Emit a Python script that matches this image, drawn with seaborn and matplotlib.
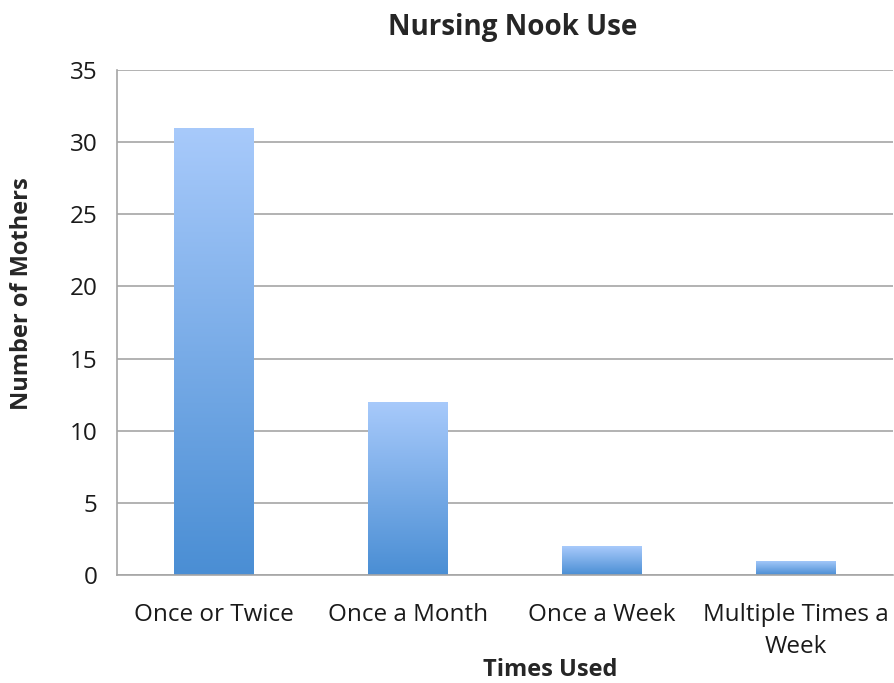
import numpy as np
import pandas as pd
import matplotlib
matplotlib.use("Agg")
import matplotlib.pyplot as plt
from matplotlib.colors import LinearSegmentedColormap
import seaborn as sns

# data
categories = ["Once or Twice", "Once a Month", "Once a Week", "Multiple Times a\nWeek"]
mothers = [31, 12, 2, 1]

data = pd.DataFrame({"Times Used": categories, "Number of Mothers": mothers})

sns.set_style("white")
plt.rcParams['font.family'] = ['Open Sans', 'DejaVu Sans']

fig = plt.figure(figsize=(8.95, 6.83), dpi=100)
ax = fig.add_axes([117/895, 1 - 575/683, (893-117)/895, (575-70)/683])

sns.barplot(x="Times Used", y="Number of Mothers", data=data, color="#7aaee8",
            width=0.41, ax=ax, zorder=3)

# vertical gradient in every bar, light at top and dark at bottom
cmap = LinearSegmentedColormap.from_list("bars", ["#4a8ed4", "#a8cafb"])
grad = np.linspace(0, 1, 256).reshape(-1, 1)
for bar in ax.patches:
    x0, y0 = bar.get_x(), bar.get_y()
    w, h = bar.get_width(), bar.get_height()
    im = ax.imshow(grad, cmap=cmap, aspect="auto", origin="lower",
                   extent=[x0, x0 + w, y0, y0 + h], zorder=3)
    im.set_clip_path(bar)
    bar.set_facecolor("none")
    bar.set_edgecolor("none")

ax.set_xlim(-0.5, 3.5)
ax.set_ylim(0, 35)
ax.set_yticks(range(0, 36, 5))
ax.grid(axis="y", color="#a6a6a6", linewidth=1.2, zorder=0)
ax.set_axisbelow(True)

for side in ["top", "right"]:
    ax.spines[side].set_visible(False)
for side in ["left", "bottom"]:
    ax.spines[side].set_color("#a6a6a6")
    ax.spines[side].set_linewidth(1.2)
    ax.spines[side].set_zorder(4)

ax.set_xticks(np.arange(-0.5, 4.0, 1.0), minor=True)
ax.tick_params(axis="x", which="major", length=0, labelsize=17.5, pad=20, colors="#1a1a1a")
ax.tick_params(axis="x", which="minor", length=7, width=1.2, color="#a6a6a6")
ax.tick_params(axis="y", length=8, width=1.2, color="#a6a6a6", labelsize=17.5, pad=6,
               labelcolor="#1a1a1a")
for lab in ax.get_xticklabels():
    lab.set_linespacing(1.45)

ax.set_title("Nursing Nook Use", fontsize=20, fontweight="bold", pad=25, x=0.51)
ax.set_xlabel("Times Used", fontsize=17, fontweight="bold", va="center")
ax.set_ylabel("Number of Mothers", fontsize=17, fontweight="bold", labelpad=26)
ax.xaxis.set_label_coords(0.558, -(670 - 575) / 505)
ax.yaxis.label.set_y(0.558)

plt.savefig("out.png", dpi=100)
